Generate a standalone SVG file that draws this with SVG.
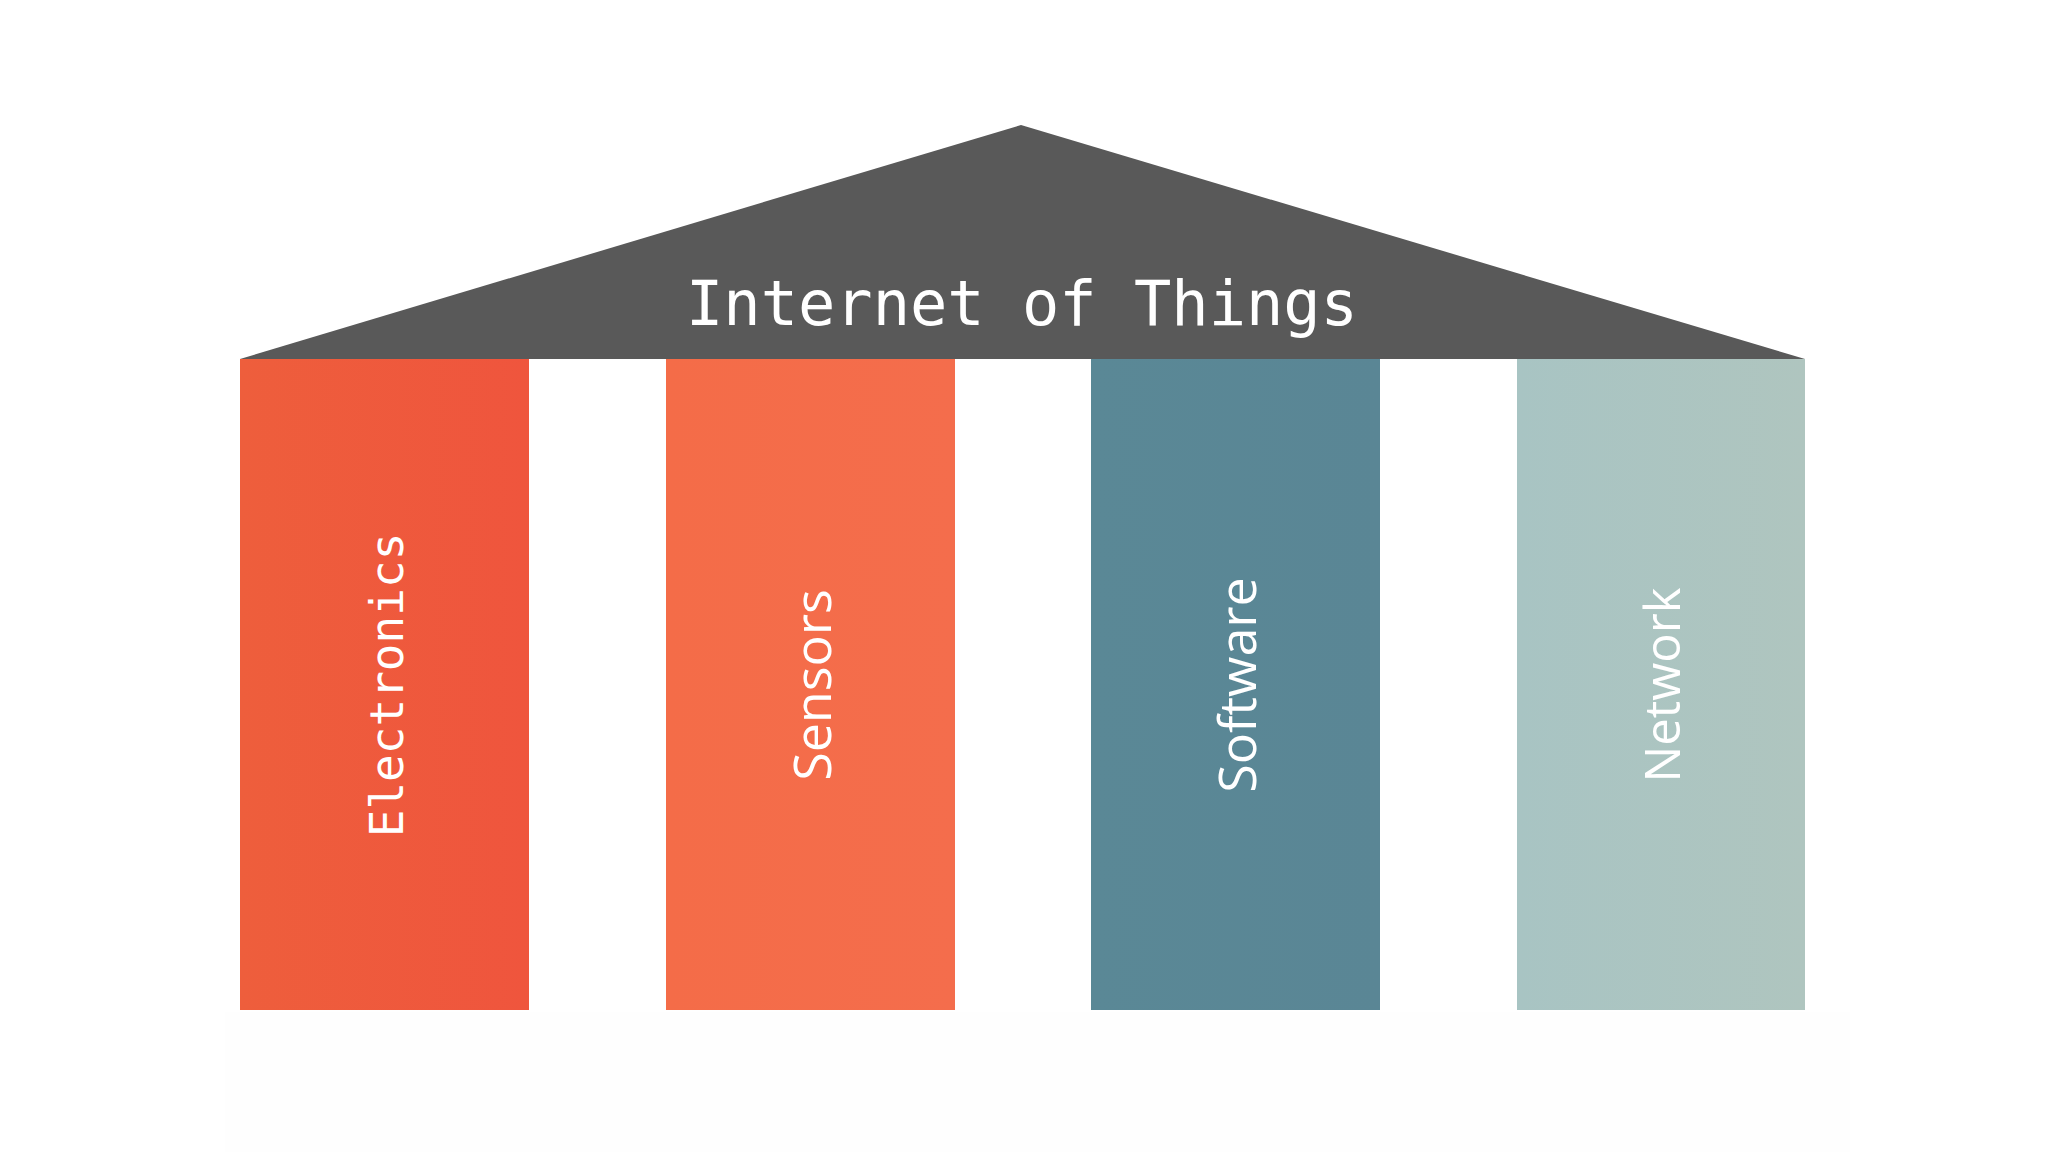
<svg xmlns="http://www.w3.org/2000/svg" width="2048" height="1152" viewBox="0 0 2048 1152">
  <defs>
    <linearGradient id="g1" x1="0" y1="0" x2="1" y2="0">
      <stop offset="0" stop-color="#EE5E3C"/>
      <stop offset="1" stop-color="#EF553D"/>
    </linearGradient>
    <linearGradient id="g2" x1="0" y1="0" x2="1" y2="0">
      <stop offset="0" stop-color="#F46C48"/>
      <stop offset="1" stop-color="#F46D4C"/>
    </linearGradient>
    <linearGradient id="g3" x1="0" y1="0" x2="1" y2="0">
      <stop offset="0" stop-color="#5A8896"/>
      <stop offset="1" stop-color="#5A8695"/>
    </linearGradient>
    <linearGradient id="g4" x1="0" y1="0" x2="1" y2="0">
      <stop offset="0" stop-color="#A8C4C3"/>
      <stop offset="1" stop-color="#AFC5BF"/>
    </linearGradient>
    <style>
      .title { font-family: "DejaVu Sans Mono", "Liberation Mono", monospace; font-size: 62px; fill: #FFFFFF; text-anchor: middle; }
      .mono { font-family: "DejaVu Sans Mono", "Liberation Mono", monospace; font-size: 46px; fill: #FFFFFF; text-anchor: middle; }
      .sans { font-family: "Open Sans", "Noto Sans", sans-serif; font-size: 52px; fill: #FFFFFF; text-anchor: middle; }
    </style>
  </defs>
  <rect x="0" y="0" width="2048" height="1152" fill="#FFFFFF"/>
  <rect x="225" y="1012" width="1625" height="140" fill="#FEFEFE"/>

  <g id="roof">
    <polygon points="240,359 1021,125 1805,359" fill="#595959"/>
    <text class="title" x="1022" y="325">Internet of Things</text>
  </g>

  <g id="electronics">
    <rect x="240" y="359" width="289" height="651" fill="url(#g1)"/>
    <text class="mono" transform="translate(403,685) rotate(-90)">Electronics</text>
  </g>

  <g id="sensors">
    <rect x="666" y="359" width="289" height="651" fill="url(#g2)"/>
    <text class="sans" transform="translate(831,685) rotate(-90)">Sensors</text>
  </g>

  <g id="software">
    <rect x="1091" y="359" width="289" height="651" fill="url(#g3)"/>
    <text class="sans" transform="translate(1256,685) rotate(-90)">Software</text>
  </g>

  <g id="network">
    <rect x="1517" y="359" width="288" height="651" fill="url(#g4)"/>
    <text class="sans" style="font-size:49px" transform="translate(1680,685) rotate(-90)">Network</text>
  </g>
</svg>
